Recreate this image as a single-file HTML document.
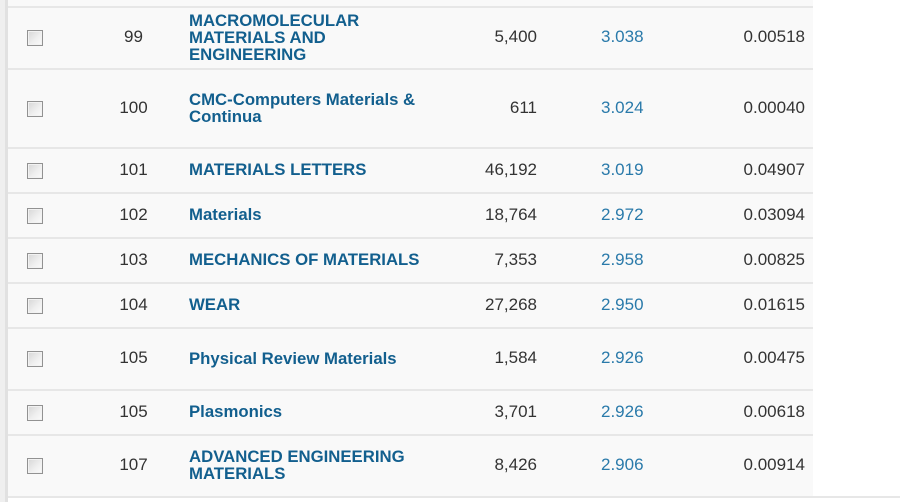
<!DOCTYPE html>
<html>
<head>
<meta charset="utf-8">
<style>
  html,body{margin:0;padding:0;}
  body{width:900px;height:502px;position:relative;overflow:hidden;background:#ffffff;
       font-family:"Liberation Sans",Arial,sans-serif;font-size:17px;color:#333;}
  .strip1{position:absolute;left:0;top:0;width:5px;height:502px;background:#efefef;}
  .strip2{position:absolute;left:5px;top:0;width:3px;height:502px;background:#e1e1e1;}
  .tbl{position:absolute;left:8px;top:0;width:805px;height:497px;background:#f9f9f9;}
  .line{position:absolute;left:8px;width:805px;height:2px;background:#e7e7e7;}
  .line.full{width:892px;}
  .row{position:absolute;left:0;width:900px;}
  .cell{position:absolute;top:-1px;height:100%;display:flex;align-items:center;white-space:nowrap;}
  .cb{left:27px;top:0;}
  .cb span{display:block;width:14px;height:14px;border:1px solid #929292;
           background:linear-gradient(135deg,#d6d6d6 0%,#eeeeee 55%,#fbfbfb 100%);
           box-shadow:inset 0 0 0 1px #f2f2f2;}
  .rank{left:103px;width:61px;justify-content:center;}
  .title{left:189px;font-weight:bold;color:#125f8e;line-height:17px;font-size:16.75px;}
  .cnt{left:437px;width:100px;justify-content:flex-end;}
  .ifv{left:601px;color:#2a7aaa;}
  .eig{left:705px;width:100px;justify-content:flex-end;}
</style>
</head>
<body>
<div class="strip1"></div>
<div class="strip2"></div>
<div class="tbl"></div>

<div class="line" style="top:6px"></div>
<div class="line" style="top:68px"></div>
<div class="line" style="top:147px"></div>
<div class="line" style="top:192px"></div>
<div class="line" style="top:237px"></div>
<div class="line" style="top:282px"></div>
<div class="line" style="top:327px"></div>
<div class="line" style="top:389px"></div>
<div class="line" style="top:434px"></div>
<div class="line full" style="top:496px"></div>

<div class="row" style="top:8px;height:60px">
  <div class="cell cb"><span></span></div>
  <div class="cell rank">99</div>
  <div class="cell title"><div>MACROMOLECULAR<br>MATERIALS AND<br>ENGINEERING</div></div>
  <div class="cell cnt">5,400</div>
  <div class="cell ifv">3.038</div>
  <div class="cell eig">0.00518</div>
</div>

<div class="row" style="top:70px;height:77px">
  <div class="cell cb"><span></span></div>
  <div class="cell rank">100</div>
  <div class="cell title"><div>CMC-Computers Materials &amp;<br>Continua</div></div>
  <div class="cell cnt">611</div>
  <div class="cell ifv">3.024</div>
  <div class="cell eig">0.00040</div>
</div>

<div class="row" style="top:149px;height:43px">
  <div class="cell cb"><span></span></div>
  <div class="cell rank">101</div>
  <div class="cell title">MATERIALS LETTERS</div>
  <div class="cell cnt">46,192</div>
  <div class="cell ifv">3.019</div>
  <div class="cell eig">0.04907</div>
</div>

<div class="row" style="top:194px;height:43px">
  <div class="cell cb"><span></span></div>
  <div class="cell rank">102</div>
  <div class="cell title">Materials</div>
  <div class="cell cnt">18,764</div>
  <div class="cell ifv">2.972</div>
  <div class="cell eig">0.03094</div>
</div>

<div class="row" style="top:239px;height:43px">
  <div class="cell cb"><span></span></div>
  <div class="cell rank">103</div>
  <div class="cell title">MECHANICS OF MATERIALS</div>
  <div class="cell cnt">7,353</div>
  <div class="cell ifv">2.958</div>
  <div class="cell eig">0.00825</div>
</div>

<div class="row" style="top:284px;height:43px">
  <div class="cell cb"><span></span></div>
  <div class="cell rank">104</div>
  <div class="cell title">WEAR</div>
  <div class="cell cnt">27,268</div>
  <div class="cell ifv">2.950</div>
  <div class="cell eig">0.01615</div>
</div>

<div class="row" style="top:329px;height:60px">
  <div class="cell cb"><span></span></div>
  <div class="cell rank">105</div>
  <div class="cell title">Physical Review Materials</div>
  <div class="cell cnt">1,584</div>
  <div class="cell ifv">2.926</div>
  <div class="cell eig">0.00475</div>
</div>

<div class="row" style="top:391px;height:43px">
  <div class="cell cb"><span></span></div>
  <div class="cell rank">105</div>
  <div class="cell title">Plasmonics</div>
  <div class="cell cnt">3,701</div>
  <div class="cell ifv">2.926</div>
  <div class="cell eig">0.00618</div>
</div>

<div class="row" style="top:436px;height:60px">
  <div class="cell cb"><span></span></div>
  <div class="cell rank">107</div>
  <div class="cell title"><div>ADVANCED ENGINEERING<br>MATERIALS</div></div>
  <div class="cell cnt">8,426</div>
  <div class="cell ifv">2.906</div>
  <div class="cell eig">0.00914</div>
</div>
</body>
</html>
